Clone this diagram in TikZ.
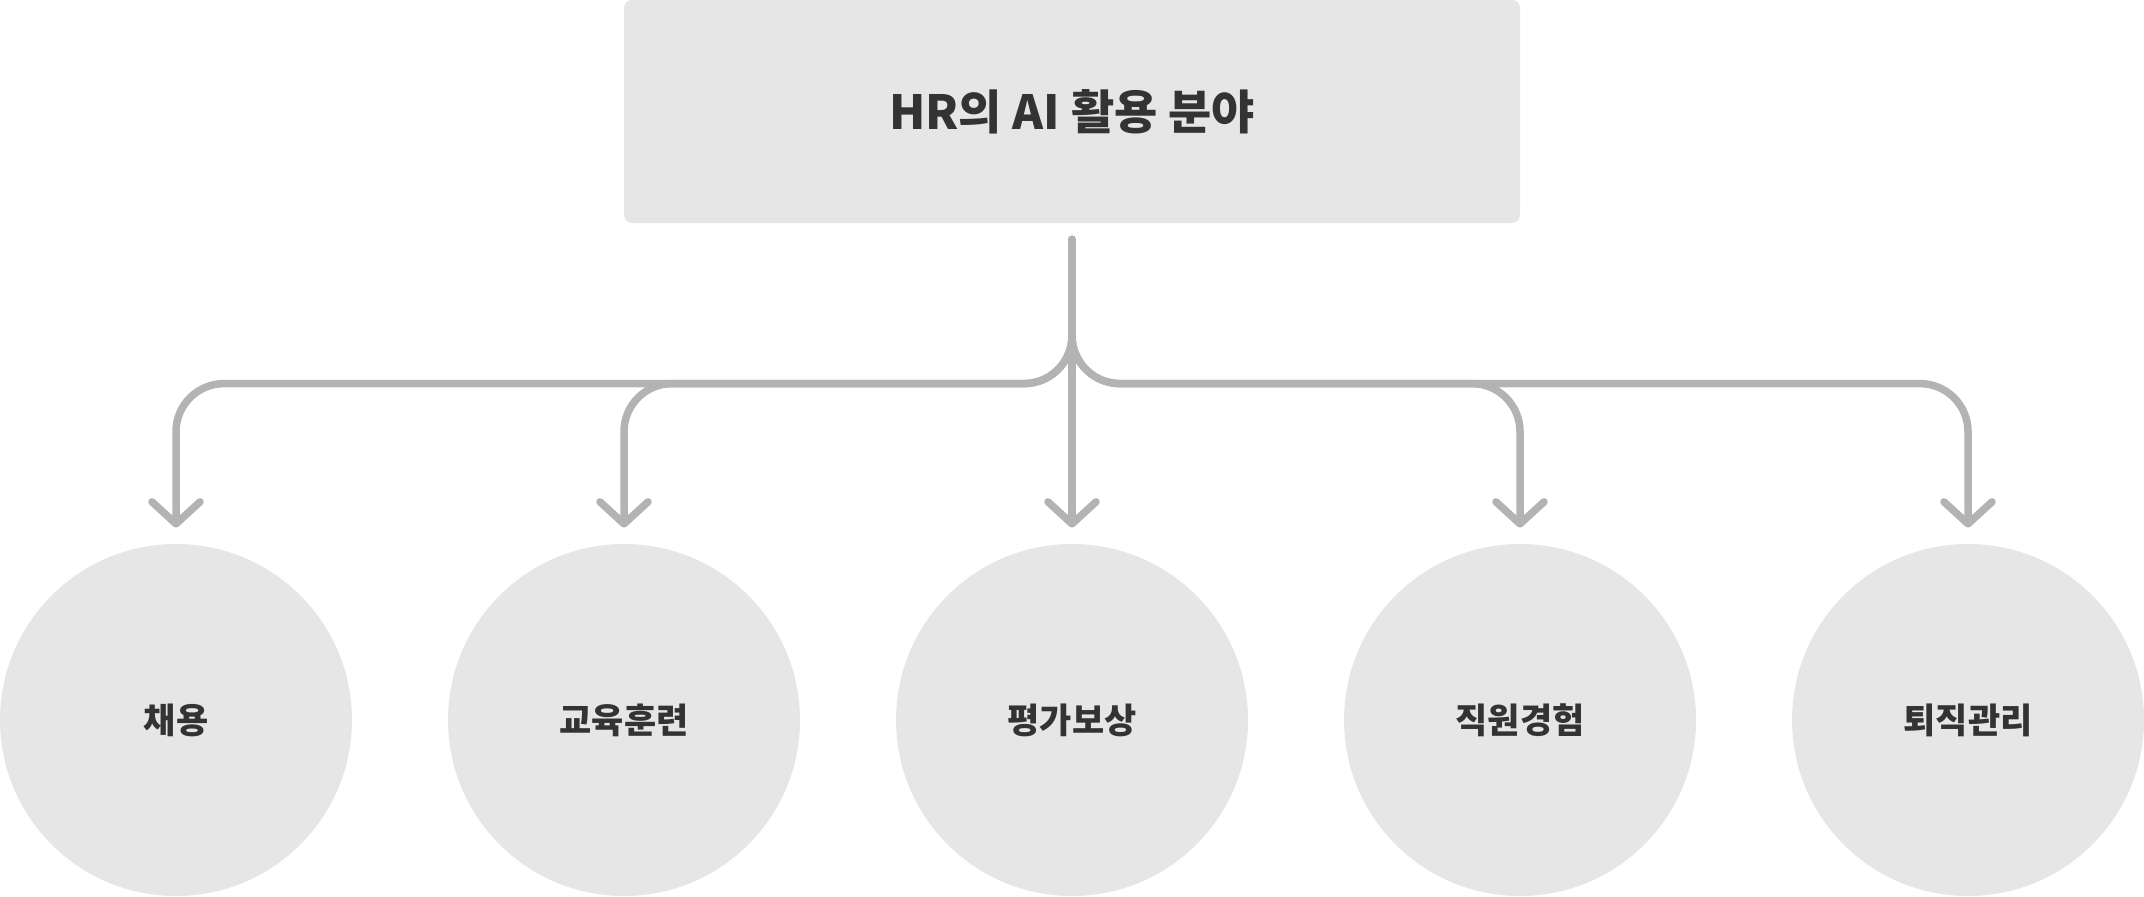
\documentclass[tikz,border=0pt]{standalone}
\usepackage{fontspec}
\newfontfamily\krfont{Noto Sans CJK KR}
\usepackage{xcolor}
\usepackage{tikz}
\usetikzlibrary{arrows.meta,positioning,calc}
\definecolor{cFill}{HTML}{E6E6E6}
\definecolor{cInk}{HTML}{333333}
\definecolor{cLine}{HTML}{B3B3B3}
\tikzset{
  topbox/.style={fill=cFill,rounded corners=4pt,align=center,font=\krfont\bfseries\fontsize{23.5}{28}\selectfont,text=cInk,minimum width=448pt,minimum height=111.5pt,inner sep=0pt},
  area/.style={circle,fill=cFill,minimum size=176pt,inner sep=0pt,font=\krfont\bfseries\fontsize{17.5}{21}\selectfont,text=cInk},
  conn/.style={-{Straight Barb[length=11pt,width=24pt,line cap=round,line join=round]},line width=3.75pt,line cap=round,color=cLine,rounded corners=24pt,shorten >=8pt},
}

\begin{document}
\begin{tikzpicture}[x=0.5pt,y=-0.5pt]
          \useasboundingbox (0,0) rectangle (2144,896);
          \node[topbox] (hr) at (1072,111.5) {HR의 AI 활용 분야};
          \foreach \i/\t in {1/채용,2/교육훈련,3/평가보상,4/직원경험,5/퇴직관리}{
            \node[area] (c\i) at ({176+448*(\i-1)},720) {\t};}
          \draw[conn] ([yshift=-8pt]hr.south) -- (c3.north);
          \foreach \i in {1,2,4,5}{
            \draw[conn] ([yshift=-8pt]hr.south) |- ([yshift=80pt]c\i.north) -- (c\i.north);}
        \end{tikzpicture}
\end{document}
